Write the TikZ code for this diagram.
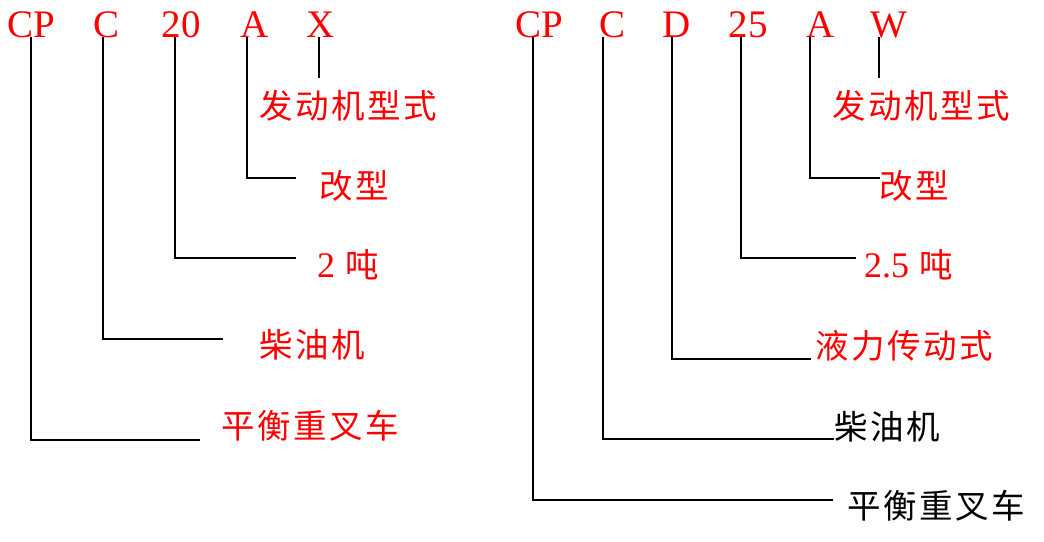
\documentclass[tikz,border=0pt]{standalone}
\usepackage{fontspec}
\setmainfont{Liberation Serif}
\newfontfamily\cjk[LetterSpace=8]{Noto Sans CJK SC}
\usetikzlibrary{positioning, calc}

\definecolor{codered}{RGB}{255,0,0}

\tikzset{
	codeletter/.style={anchor=base, inner sep=0pt, text=codered, font=\fontsize{39}{39}\selectfont},
	meaning/.style={anchor=west, inner sep=0pt, text=codered, font=\fontsize{33.5}{34}\selectfont\cjk},
	blackmeaning/.style={meaning, text=black},
	leader/.style={draw=black, line width=2pt}
}

\begin{document}
\begin{tikzpicture}[x=1pt, y=-1pt]
		
		\useasboundingbox (0,0) rectangle (1044,541);
		
		%Left model code: CP C 20 A X
		\node (lCP) at (31,37) [codeletter]{CP};
		\node (lC) at (107,37) [codeletter]{C};
		\node (lTon) at (181,37) [codeletter]{20};
		\node (lA) at (255,37) [codeletter]{A};
		\node (lX) at (321,37) [codeletter]{X};
		
		%Left meanings
		\node (lEngine) at (259,106) [meaning]{发动机型式};
		\node (lMod) at (319,186) [meaning]{改型};
		\node (lWeight) at (317,265) [meaning]{{\rmfamily\fontsize{36}{36}\selectfont 2} 吨};
		\node (lDiesel) at (259,345) [meaning]{柴油机};
		\node (lTruck) at (221,426) [meaning]{平衡重叉车};
		
		%Left line ends
		\coordinate (lXend) at (319,78);
		\coordinate (lAend) at (296,178);
		\coordinate (lTonend) at (296,258);
		\coordinate (lCend) at (223,339);
		\coordinate (lCPend) at (200,440);
		
		%Left leaders
		\draw[leader] ([xshift=-2pt]lX.base) -- (lXend);
		\draw[leader] ([xshift=-8pt]lA.base) |- (lAend);
		\draw[leader] ([xshift=-6pt]lTon.base) |- (lTonend);
		\draw[leader] ([xshift=-4pt]lC.base) |- (lCend);
		\draw[leader] (lCP.base) |- (lCPend);
		
		
		%%%%%%%%%%%%%%%%%%%%%%%%%%%%%%%%%%%%%
		%Right model code: CP C D 25 A W
		\node (rCP) at (539,37) [codeletter]{CP};
		\node (rC) at (612,37) [codeletter]{C};
		\node (rD) at (677,37) [codeletter]{D};
		\node (rTon) at (748,37) [codeletter]{25};
		\node (rA) at (821,37) [codeletter]{A};
		\node (rW) at (889,37) [codeletter]{W};
		
		%Right meanings
		\node (rEngine) at (832,106) [meaning]{发动机型式};
		\node (rMod) at (879,186) [meaning]{改型};
		\node (rWeight) at (864,265) [meaning]{{\rmfamily\fontsize{36}{36}\selectfont 2.5} 吨};
		\node (rDrive) at (815,346) [meaning]{液力传动式};
		\node (rDiesel) at (834,427) [blackmeaning]{柴油机};
		\node (rTruck) at (847,506) [blackmeaning]{平衡重叉车};
		
		%Right line ends
		\coordinate (rWend) at (879,78);
		\coordinate (rAend) at (880,178);
		\coordinate (rTonend) at (856,258);
		\coordinate (rDend) at (811,359);
		\coordinate (rCend) at (834,439);
		\coordinate (rCPend) at (833,500);
		
		%Right leaders
		\draw[leader] ([xshift=-10pt]rW.base) -- (rWend);
		\draw[leader] ([xshift=-11pt]rA.base) |- (rAend);
		\draw[leader] ([xshift=-7pt]rTon.base) |- (rTonend);
		\draw[leader] ([xshift=-5pt]rD.base) |- (rDend);
		\draw[leader] ([xshift=-9pt]rC.base) |- (rCend);
		\draw[leader] ([xshift=-6pt]rCP.base) |- (rCPend);
		
\end{tikzpicture}
\end{document}
